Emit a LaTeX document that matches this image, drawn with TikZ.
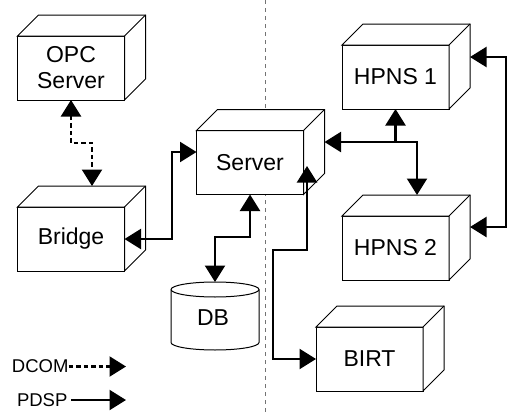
\documentclass[tikz,border=0pt]{standalone}
\usepackage{fontspec}
\setmainfont{Liberation Sans}
\usetikzlibrary{arrows.meta}
\tikzset{
  cubefront/.style={draw, line width=1pt, fill=white, minimum width=107pt, minimum height=64pt,
    inner sep=0pt, outer sep=0pt, font=\fontsize{23}{26}\selectfont, align=center},
  cubeedge/.style={line width=1pt, line join=miter},
  pdsp/.style={line width=2.2pt, line join=miter},
  dcom/.style={line width=2.2pt, dash pattern=on 4.5pt off 3pt},
  sepline/.style={line width=1pt, draw=black!55, dash pattern=on 4pt off 4pt},
  legendtext/.style={font=\fontsize{18.5}{21}\selectfont, inner sep=0pt, outer sep=0pt, anchor=west},
  labeltext/.style={font=\fontsize{23}{26}\selectfont, inner sep=0pt, outer sep=0pt}
}
\newcommand{\cubebox}[4]{%
  \node[cubefront] (#1) at (#2,#3) {#4};
  \filldraw[cubeedge, fill=white] (#1.north west) -- ([shift={(21,-21)}]#1.north west)
    -- ([shift={(21,-21)}]#1.north east) -- ([shift={(21,-21)}]#1.south east)
    -- (#1.south east) -- (#1.north east) -- cycle;
  \draw[cubeedge] (#1.north east) -- ([shift={(21,-21)}]#1.north east);
}
\begin{document}
\begin{tikzpicture}[x=1pt,y=-1pt,>={Triangle[width=20pt,length=16.5pt]}]
\useasboundingbox (0,0) rectangle (512,415);
% separator
\coordinate (septop) at (265,0);
\coordinate (sepbot) at (265,415);
\draw[sepline] (septop) -- (sepbot);
% boxes
\cubebox{opc}{71}{68}{OPC\\Server}
\cubebox{bridge}{71}{239}{Bridge}
\cubebox{server}{250}{162.5}{Server}
\cubebox{hpnsa}{395.5}{77}{HPNS 1}
\cubebox{hpnsb}{395.5}{248}{HPNS 2}
\cubebox{birt}{369.5}{359}{BIRT}
% database
\filldraw[line width=1pt, fill=white] (171,289.5) -- (171,342.5)
  arc[start angle=180, end angle=0, x radius=44, y radius=7.5]
  -- (259,289.5)
  arc[start angle=0, end angle=-180, x radius=44, y radius=7.5] -- cycle;
\draw[line width=1pt] (171,289.5) arc[start angle=180, end angle=0, x radius=44, y radius=7.5];
\node[labeltext] (db) at (213,318) {DB};
\coordinate (dbtop) at (215,282);
% DCOM connector
\draw[dcom, <->] (opc.south) -- (71,143) -- (92,143) -- ([shift={(21,-21)}]bridge.north);
% PDSP connectors
\draw[pdsp, <->] (bridge.east) -- (172,239) -- (172,152) -- ([yshift=10.5pt]server.west);
\draw[pdsp, <->] (server.south) -- (250,237) -- (215,237) -- (dbtop);
\coordinate (srvr) at (307,166);
\draw[pdsp, <->] (srvr) -- (307,250) -- (273,250) -- (273,359) -- (birt.west);
\coordinate (srve) at (324.5,142);
\coordinate (junc) at (395.5,142);
\draw[pdsp, <->] (srve) -- (junc) -- (hpnsa.south);
\draw[pdsp, ->] (junc) -- (417,142) -- ([shift={(21.5,-21)}]hpnsb.north);
\draw[pdsp, <->] ([shift={(21,12)}]hpnsa.north east) -- (506,57) -- (506,227)
  -- ([shift={(21,11)}]hpnsb.north east);
% legend
\node[legendtext] (ldcom) at (12,366.5) {DCOM};
\node[legendtext] (lpdsp) at (17,400) {PDSP};
\coordinate (ldcomend) at (126,366.5);
\coordinate (lpdspend) at (126,400);
\draw[dcom, ->] (ldcom.east) -- (ldcomend);
\draw[pdsp, ->] ([xshift=4pt]lpdsp.east) -- (lpdspend);
\end{tikzpicture}
\end{document}
